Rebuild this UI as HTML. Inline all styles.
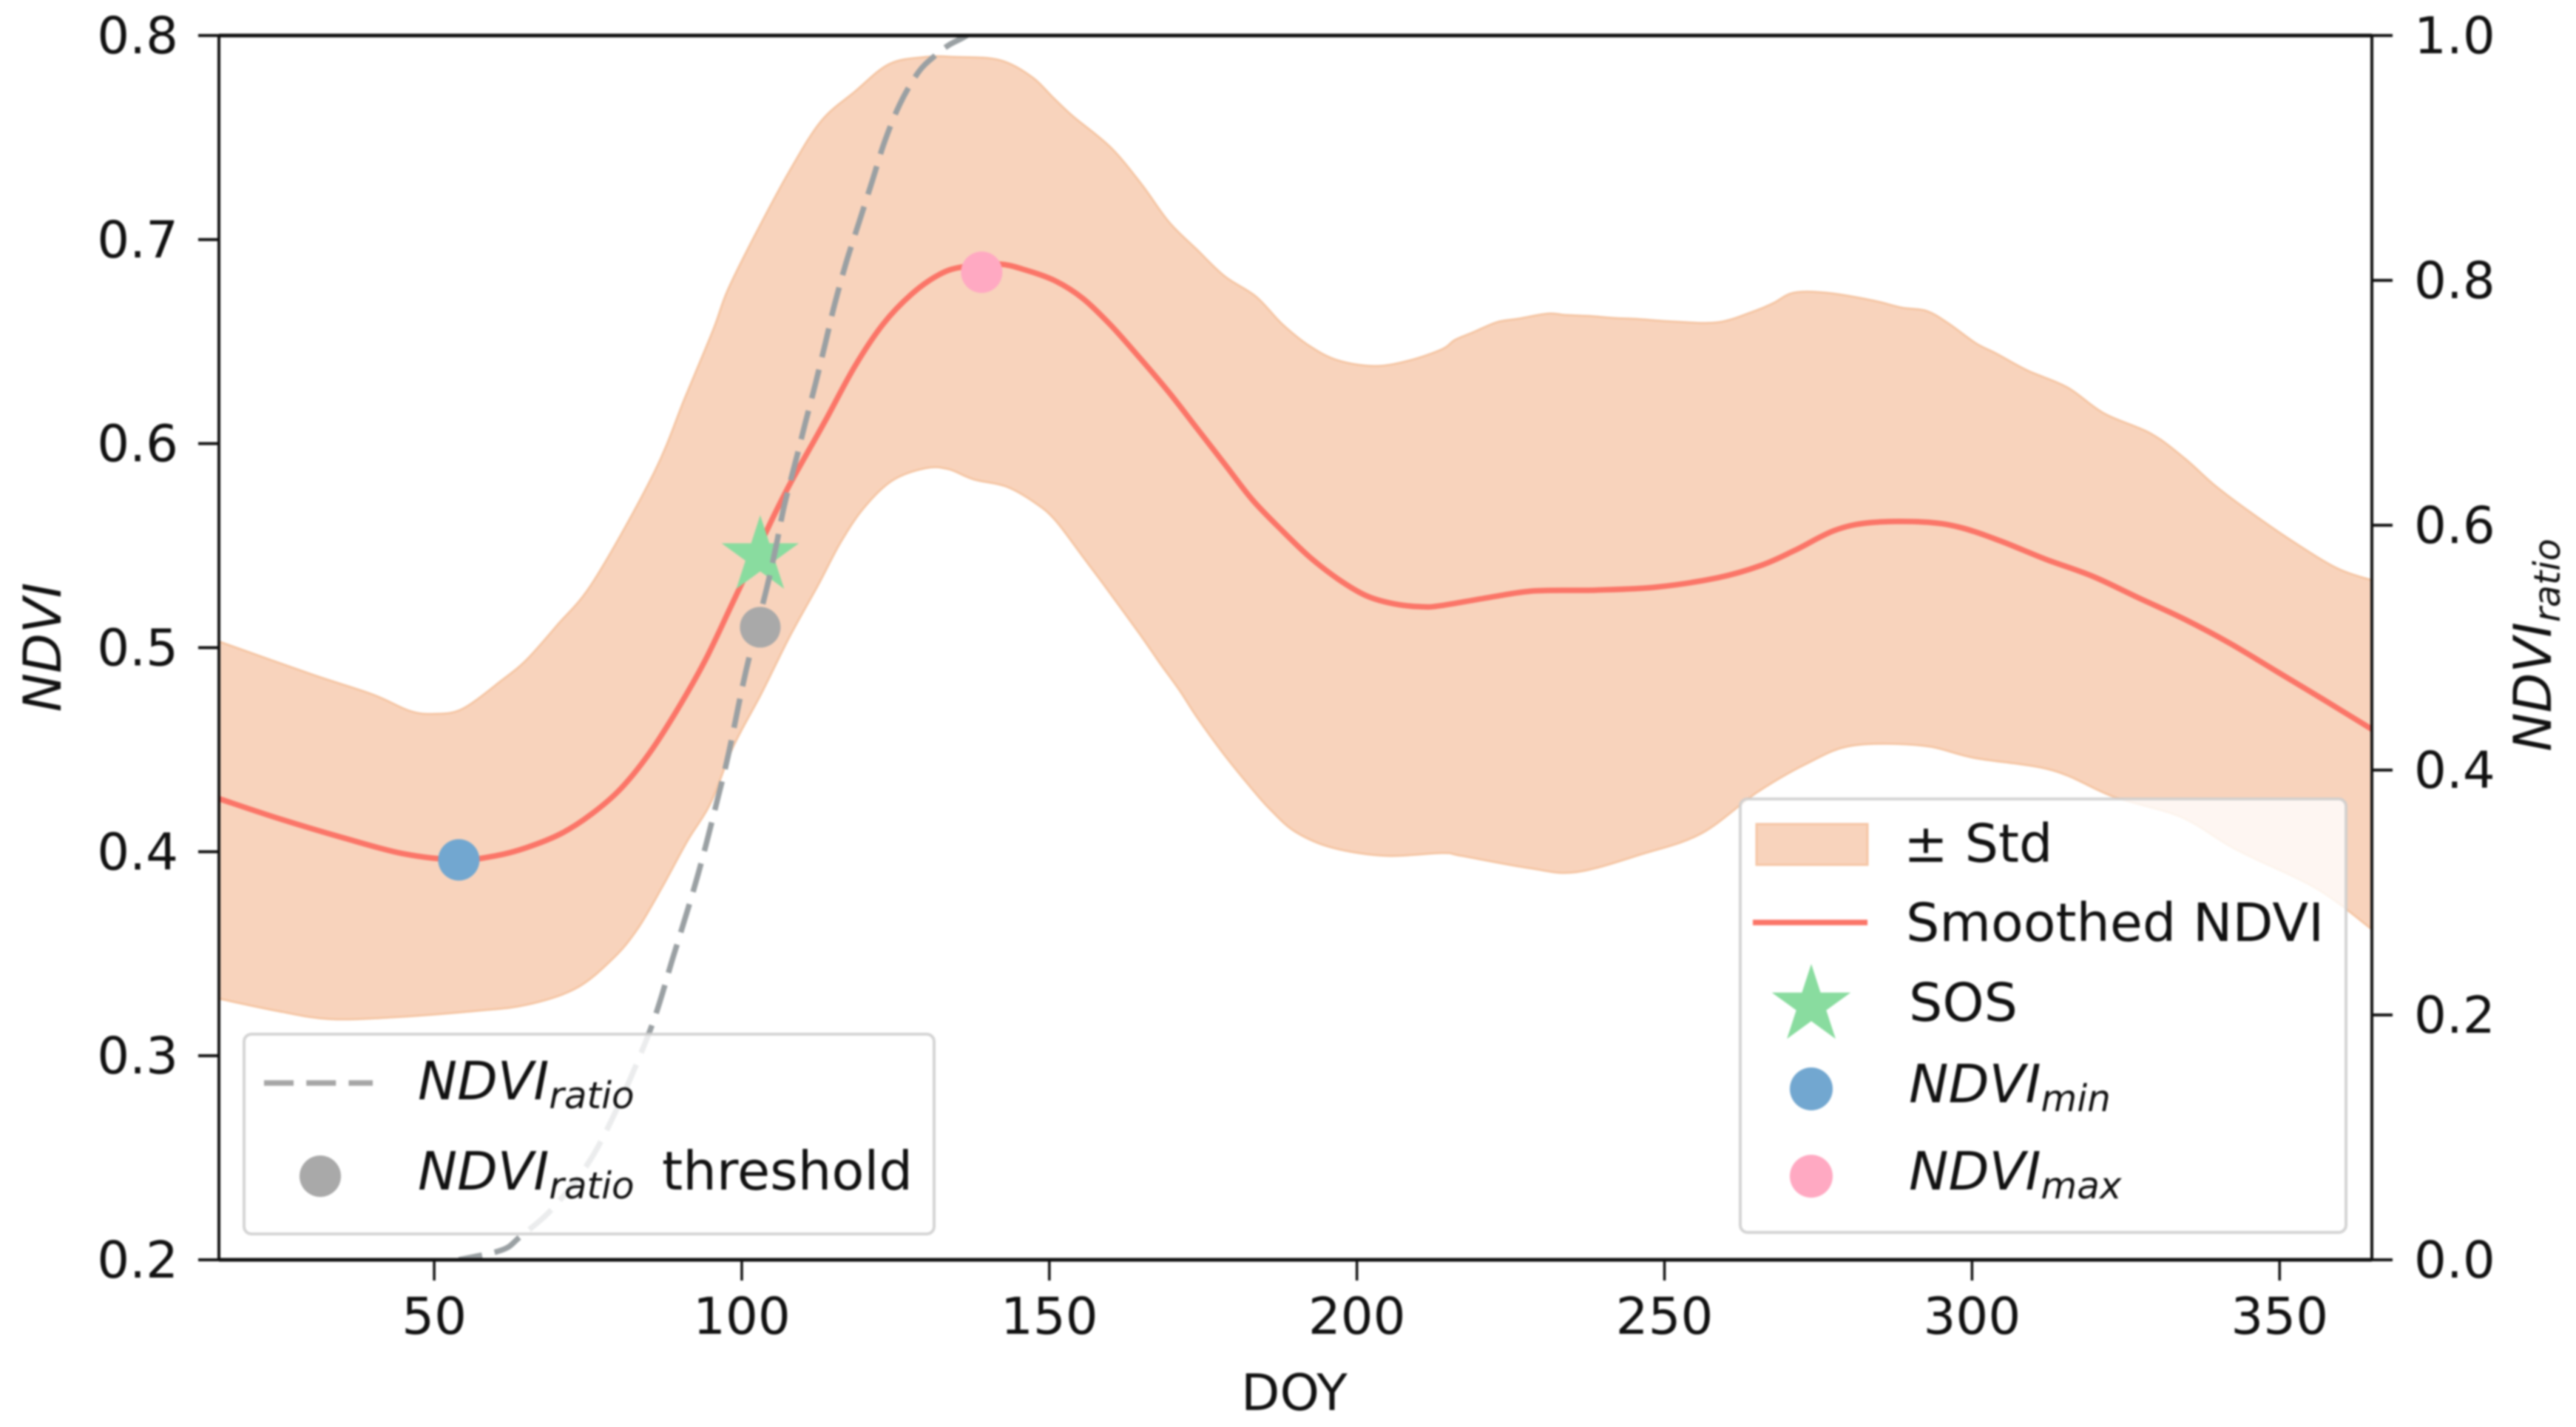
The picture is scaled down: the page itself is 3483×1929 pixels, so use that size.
<!DOCTYPE html>
<html lang="en">
<head>
<meta charset="utf-8">
<title>NDVI phenology chart</title>
<style>
html,body{margin:0;padding:0;background:#fff;}
body{width:3483px;height:1929px;overflow:hidden;}
svg{display:block;filter:blur(1.4px);}
text{font-family:"DejaVu Sans","Liberation Sans",sans-serif;fill:#111;}
.math{font-style:italic;}
</style>
</head>
<body>
<svg id="chart" xmlns="http://www.w3.org/2000/svg" width="3483" height="1929" viewBox="0 0 3483 1929">
  <rect x="0" y="0" width="3483" height="1929" fill="#ffffff"/>
  <defs>
    <clipPath id="plot-clip"><rect x="296" y="48" width="2911" height="1655"/></clipPath>
  </defs>
  <g id="marks" clip-path="url(#plot-clip)"></g>
  <g id="axes"></g>

  <text x="1750" y="1906" font-size="68" text-anchor="middle">DOY</text>
  <text class="math" transform="translate(82,875) rotate(-90)" font-size="70" text-anchor="middle">NDVI</text>
  <text class="math" transform="translate(3449,872) rotate(-90)" font-size="70" text-anchor="middle">NDVI<tspan font-size="49" dy="12">ratio</tspan></text>

  <g>
    <rect x="330" y="1398" width="933" height="270" rx="10" ry="10" fill="#ffffff" fill-opacity="0.8" stroke="#cccccc" stroke-opacity="0.85" stroke-width="4"/>
    <line x1="357" y1="1464" x2="504" y2="1464" stroke="#a6a6a6" stroke-width="7.5" stroke-dasharray="40 17.2"/>
    <text class="math" x="565" y="1486" font-size="71">NDVI<tspan font-size="50" dy="12">ratio</tspan></text>
    <circle cx="433" cy="1590" r="28" fill="#a9a9a9"/>
    <text class="math" x="565" y="1608" font-size="71">NDVI<tspan font-size="50" dy="12">ratio</tspan></text>
    <text x="895" y="1608" font-size="72">threshold</text>
  </g>

  <g>
    <rect x="2353" y="1080" width="819" height="586" rx="10" ry="10" fill="#ffffff" fill-opacity="0.8" stroke="#cccccc" stroke-opacity="0.85" stroke-width="4"/>
    <rect x="2375" y="1114" width="150" height="55" fill="#f8d3bc" stroke="#f5c6a5" stroke-width="3"/>
    <text x="2574" y="1165" font-size="71.5">± Std</text>
    <line x1="2370" y1="1247" x2="2525" y2="1247" stroke="#fb7568" stroke-width="7.5"/>
    <text x="2577" y="1272" font-size="71.5">Smoothed NDVI</text>
    <polygon id="legend-star" fill="#89dc9f"/>
    <text x="2581" y="1380" font-size="71.5">SOS</text>
    <circle cx="2449" cy="1472" r="29" fill="#72a7d0"/>
    <text class="math" x="2581" y="1490" font-size="71.5">NDVI<tspan font-size="50" dy="12">min</tspan></text>
    <circle cx="2449" cy="1590" r="29" fill="#ffa9c2"/>
    <text class="math" x="2581" y="1608" font-size="71.5">NDVI<tspan font-size="50" dy="12">max</tspan></text>
  </g>
</svg>
<script>
// ---- data ----
const xTickValues = [50, 100, 150, 200, 250, 300, 350];
const leftTickLabels = ['0.2', '0.3', '0.4', '0.5', '0.6', '0.7', '0.8'];
const rightTickLabels = ['0.0', '0.2', '0.4', '0.6', '0.8', '1.0'];

const meanDoy = [15, 25, 35, 45, 54, 60, 65, 70.7, 75.6, 80.2, 84.8, 89.4, 94, 98.6, 105, 107.8, 111.5, 113.9, 118.4, 123, 127.7, 132.2, 135.9, 141.8, 146.2, 151, 155.5, 160, 164.7, 169.4, 174, 178.5, 183, 187.8, 192.3, 197, 201.5, 206, 210.7, 213.9, 221.3, 228.8, 238.8, 248.7, 258.7, 265.7, 271.2, 277.7, 283.6, 292, 298, 304.6, 312, 319.6, 327, 334.5, 342, 349.5, 357, 365];
const meanNdvi = [0.426, 0.416, 0.407, 0.399, 0.396, 0.398, 0.402, 0.409, 0.4185, 0.4305, 0.4475, 0.469, 0.4935, 0.5225, 0.5633, 0.58, 0.6, 0.613, 0.638, 0.6587, 0.6735, 0.683, 0.6866, 0.688, 0.685, 0.6797, 0.671, 0.658, 0.642, 0.6253, 0.6075, 0.59, 0.5725, 0.5575, 0.5445, 0.5335, 0.5255, 0.5215, 0.52, 0.5207, 0.5245, 0.5278, 0.5282, 0.5297, 0.5343, 0.5403, 0.5477, 0.5575, 0.5613, 0.5616, 0.559, 0.5523, 0.5433, 0.535, 0.5245, 0.514, 0.502, 0.4884, 0.4748, 0.46];

const upperDoy = [15, 30, 40, 46, 50, 54.6, 61, 65, 70, 76, 85.7, 90.8, 95.4, 97.7, 102.3, 107.8, 112.9, 118.4, 124, 130, 134.5, 141.8, 147, 150.6, 153.8, 160, 165, 169.4, 174, 178.5, 183.6, 187.8, 192.3, 197, 203, 208.5, 213.9, 215.9, 218.9, 222.8, 226.3, 231.1, 233.8, 237.8, 241.8, 245.7, 251.3, 258.7, 264.7, 267.7, 271, 276.2, 283.6, 288.6, 292.6, 296.1, 300.6, 304, 309, 315.5, 321.5, 329, 334.5, 339.5, 345.5, 352.4, 359.4, 365];
const upperNdvi = [0.503, 0.487, 0.477, 0.469, 0.4675, 0.47, 0.484, 0.494, 0.511, 0.533, 0.5854, 0.6226, 0.656, 0.675, 0.703, 0.7337, 0.758, 0.7725, 0.786, 0.7895, 0.7895, 0.788, 0.78, 0.7696, 0.7605, 0.745, 0.727, 0.7087, 0.695, 0.682, 0.672, 0.6587, 0.6478, 0.6407, 0.638, 0.6407, 0.6463, 0.6507, 0.6545, 0.6595, 0.6612, 0.6637, 0.663, 0.6625, 0.6615, 0.661, 0.6598, 0.6594, 0.665, 0.6688, 0.6739, 0.6739, 0.6703, 0.6666, 0.665, 0.659, 0.6492, 0.644, 0.6358, 0.6275, 0.6147, 0.605, 0.5929, 0.5794, 0.5658, 0.5515, 0.5388, 0.533];

const lowerDoy = [15, 24.5, 33, 44, 56.7, 65, 73, 79, 83, 87, 91.2, 94.9, 98.6, 103.2, 107.8, 112.4, 116, 119.7, 124.4, 129.9, 133.6, 137.7, 143, 147.7, 151, 155.5, 159.2, 164.7, 168, 171.2, 174, 178.5, 183, 185.9, 190, 196, 204.7, 213.9, 217, 228, 235.6, 246.5, 256, 265, 273, 280.5, 292, 300.4, 313, 323, 334, 343, 356, 365];
const lowerNdvi = [0.328, 0.322, 0.318, 0.319, 0.322, 0.325, 0.333, 0.3475, 0.362, 0.3824, 0.4056, 0.4237, 0.4515, 0.4777, 0.5056, 0.5307, 0.5513, 0.568, 0.5818, 0.588, 0.5875, 0.5825, 0.579, 0.571, 0.5624, 0.5444, 0.5295, 0.5067, 0.4924, 0.479, 0.466, 0.4473, 0.4306, 0.4208, 0.4098, 0.402, 0.398, 0.3994, 0.398, 0.392, 0.39, 0.399, 0.409, 0.429, 0.443, 0.452, 0.452, 0.446, 0.44, 0.427, 0.417, 0.401, 0.382, 0.362];

const ratioDoy = [54, 61, 64, 69.6, 76.6, 84.6, 89, 92.9, 96.3, 97.9, 100.7, 104, 105.5, 106.9, 109, 110.3, 112, 113.6, 115.1, 117, 119.1, 121.2, 123.2, 125.7, 128.7, 131.3, 133.6, 135.9, 137.5];
const ratioValues = [0, 0.008, 0.019, 0.044, 0.092, 0.181, 0.25, 0.315, 0.381, 0.4145, 0.4815, 0.5474, 0.581, 0.6157, 0.657, 0.683, 0.716, 0.749, 0.7805, 0.815, 0.848, 0.881, 0.913, 0.944, 0.97, 0.983, 0.992, 0.998, 1.003];

const minPointDoy = [54];
const minPointNdvi = [0.396];
const maxPointDoy = [139];
const maxPointNdvi = [0.684];
const sosPointDoy = [103];
const sosPointNdvi = [0.545];
const thresholdPointDoy = [103];
const thresholdPointNdvi = [0.51];

// ---- axis functions ----
const PLOT_LEFT = 296, PLOT_RIGHT = 3207, PLOT_TOP = 48, PLOT_BOTTOM = 1703;
const X_MIN = 15, X_MAX = 365, LEFT_MIN = 0.2, LEFT_MAX = 0.8, RIGHT_MIN = 0, RIGHT_MAX = 1;
function xScale(v) { return PLOT_LEFT + (v - X_MIN) / (X_MAX - X_MIN) * (PLOT_RIGHT - PLOT_LEFT); }
function yLeft(v) { return PLOT_BOTTOM - (v - LEFT_MIN) / (LEFT_MAX - LEFT_MIN) * (PLOT_BOTTOM - PLOT_TOP); }
function yRight(v) { return PLOT_BOTTOM - (v - RIGHT_MIN) / (RIGHT_MAX - RIGHT_MIN) * (PLOT_BOTTOM - PLOT_TOP); }

const NS = 'http://www.w3.org/2000/svg';
const marks = document.getElementById('marks');
const axes = document.getElementById('axes');

function toPoints(xs, ys, yFn) {
  return xs.map(function (x, i) { return [xScale(x), yFn(ys[i])]; });
}
function curveSegments(p) {
  let d = '';
  for (let i = 0; i < p.length - 1; i++) {
    const p0 = p[Math.max(i - 1, 0)], p1 = p[i], p2 = p[i + 1], p3 = p[Math.min(i + 2, p.length - 1)];
    const c1x = p1[0] + (p2[0] - p0[0]) / 6, c1y = p1[1] + (p2[1] - p0[1]) / 6;
    const c2x = p2[0] - (p3[0] - p1[0]) / 6, c2y = p2[1] - (p3[1] - p1[1]) / 6;
    d += ' C' + c1x.toFixed(1) + ' ' + c1y.toFixed(1) + ' ' + c2x.toFixed(1) + ' ' + c2y.toFixed(1) + ' ' + p2[0].toFixed(1) + ' ' + p2[1].toFixed(1);
  }
  return d;
}
function starPoints(cx, cy, R) {
  const r = R * 0.382, out = [];
  for (let i = 0; i < 10; i++) {
    const a = -Math.PI / 2 + i * Math.PI / 5, q = i % 2 ? r : R;
    out.push((cx + q * Math.cos(a)).toFixed(1) + ',' + (cy + q * Math.sin(a)).toFixed(1));
  }
  return out.join(' ');
}

document.getElementById('legend-star').setAttribute('points', starPoints(2449, 1359, 56));

// std band
const upperPts = toPoints(upperDoy, upperNdvi, yLeft);
const lowerPts = toPoints(lowerDoy, lowerNdvi, yLeft).reverse();
const band = document.createElementNS(NS, 'path');


band.setAttribute('d', 'M' + upperPts[0][0] + ' ' + upperPts[0][1] + curveSegments(upperPts) + ' L' + lowerPts[0][0] + ' ' + lowerPts[0][1] + curveSegments(lowerPts) + ' Z');
band.setAttribute('fill', '#f8d3bc');
band.setAttribute('stroke', '#f5c6a5');
band.setAttribute('stroke-width', '3');
marks.appendChild(band);

// smoothed NDVI line
const meanPts = toPoints(meanDoy, meanNdvi, yLeft);
const meanLine = document.createElementNS(NS, 'path');


meanLine.setAttribute('d', 'M' + meanPts[0][0] + ' ' + meanPts[0][1] + curveSegments(meanPts));
meanLine.setAttribute('fill', 'none');
meanLine.setAttribute('stroke', '#fb7568');
meanLine.setAttribute('stroke-width', '7.5');
marks.appendChild(meanLine);

// min marker
const minMarker = document.createElementNS(NS, 'circle');


minMarker.setAttribute('cx', xScale(minPointDoy[0]));
minMarker.setAttribute('cy', yLeft(minPointNdvi[0]));
minMarker.setAttribute('r', '28');
minMarker.setAttribute('fill', '#72a7d0');
marks.appendChild(minMarker);

// max marker
const maxMarker = document.createElementNS(NS, 'circle');


maxMarker.setAttribute('cx', xScale(maxPointDoy[0]));
maxMarker.setAttribute('cy', yLeft(maxPointNdvi[0]));
maxMarker.setAttribute('r', '28');
maxMarker.setAttribute('fill', '#ffa9c2');
marks.appendChild(maxMarker);

// SOS star
const sosMarker = document.createElementNS(NS, 'polygon');


sosMarker.setAttribute('points', starPoints(xScale(sosPointDoy[0]), yLeft(sosPointNdvi[0]), 55));
sosMarker.setAttribute('fill', '#89dc9f');
marks.appendChild(sosMarker);

// NDVI ratio dashed line (twin axis)
const ratioPts = toPoints(ratioDoy, ratioValues, yRight);
const ratioLine = document.createElementNS(NS, 'path');


ratioLine.setAttribute('d', 'M' + ratioPts[0][0] + ' ' + ratioPts[0][1] + curveSegments(ratioPts));
ratioLine.setAttribute('fill', 'none');
ratioLine.setAttribute('stroke', '#9aa0a3');
ratioLine.setAttribute('stroke-width', '7.5');
ratioLine.setAttribute('stroke-dasharray', '40 17.2');
ratioLine.setAttribute('stroke-dashoffset', '8');
marks.appendChild(ratioLine);

// threshold marker
const thresholdMarker = document.createElementNS(NS, 'circle');


thresholdMarker.setAttribute('cx', xScale(thresholdPointDoy[0]));
thresholdMarker.setAttribute('cy', yLeft(thresholdPointNdvi[0]));
thresholdMarker.setAttribute('r', '27.5');
thresholdMarker.setAttribute('fill', '#a9a9a9');
marks.appendChild(thresholdMarker);

// spines
const spineTop = document.createElementNS(NS, 'line');


spineTop.setAttribute('x1', PLOT_LEFT); spineTop.setAttribute('x2', PLOT_RIGHT);
spineTop.setAttribute('y1', PLOT_TOP); spineTop.setAttribute('y2', PLOT_TOP);
spineTop.setAttribute('stroke', '#111'); spineTop.setAttribute('stroke-width', '5');
axes.appendChild(spineTop);

const spineBottom = document.createElementNS(NS, 'line');


spineBottom.setAttribute('x1', PLOT_LEFT); spineBottom.setAttribute('x2', PLOT_RIGHT);
spineBottom.setAttribute('y1', PLOT_BOTTOM); spineBottom.setAttribute('y2', PLOT_BOTTOM);
spineBottom.setAttribute('stroke', '#111'); spineBottom.setAttribute('stroke-width', '5');
axes.appendChild(spineBottom);

const spineLeft = document.createElementNS(NS, 'line');


spineLeft.setAttribute('x1', PLOT_LEFT); spineLeft.setAttribute('x2', PLOT_LEFT);
spineLeft.setAttribute('y1', PLOT_TOP); spineLeft.setAttribute('y2', PLOT_BOTTOM);
spineLeft.setAttribute('stroke', '#111'); spineLeft.setAttribute('stroke-width', '4');
axes.appendChild(spineLeft);

const spineRight = document.createElementNS(NS, 'line');


spineRight.setAttribute('x1', PLOT_RIGHT); spineRight.setAttribute('x2', PLOT_RIGHT);
spineRight.setAttribute('y1', PLOT_TOP); spineRight.setAttribute('y2', PLOT_BOTTOM);
spineRight.setAttribute('stroke', '#111'); spineRight.setAttribute('stroke-width', '4');
axes.appendChild(spineRight);

// x ticks
xTickValues.forEach(function (v) {
  const tick = document.createElementNS(NS, 'line');
  
  
  tick.setAttribute('x1', xScale(v)); tick.setAttribute('x2', xScale(v));
  tick.setAttribute('y1', PLOT_BOTTOM); tick.setAttribute('y2', PLOT_BOTTOM + 28);
  tick.setAttribute('stroke', '#111'); tick.setAttribute('stroke-width', '3.5');
  axes.appendChild(tick);
  const label = document.createElementNS(NS, 'text');
  
  
  label.setAttribute('x', xScale(v));
  label.setAttribute('y', 1803);
  label.setAttribute('font-size', '69');
  label.setAttribute('text-anchor', 'middle');
  label.textContent = String(v);
  axes.appendChild(label);
});

// left y ticks
leftTickLabels.forEach(function (t) {
  const y = yLeft(parseFloat(t));
  const tick = document.createElementNS(NS, 'line');
  
  
  tick.setAttribute('x1', PLOT_LEFT - 28); tick.setAttribute('x2', PLOT_LEFT);
  tick.setAttribute('y1', y); tick.setAttribute('y2', y);
  tick.setAttribute('stroke', '#111'); tick.setAttribute('stroke-width', '4');
  axes.appendChild(tick);
  const label = document.createElementNS(NS, 'text');
  
  
  label.setAttribute('x', 241);
  label.setAttribute('y', y + 24);
  label.setAttribute('font-size', '69');
  label.setAttribute('text-anchor', 'end');
  label.textContent = t;
  axes.appendChild(label);
});

// right y ticks
rightTickLabels.forEach(function (t) {
  const y = yRight(parseFloat(t));
  const tick = document.createElementNS(NS, 'line');
  
  
  tick.setAttribute('x1', PLOT_RIGHT); tick.setAttribute('x2', PLOT_RIGHT + 28);
  tick.setAttribute('y1', y); tick.setAttribute('y2', y);
  tick.setAttribute('stroke', '#111'); tick.setAttribute('stroke-width', '4');
  axes.appendChild(tick);
  const label = document.createElementNS(NS, 'text');
  
  
  label.setAttribute('x', 3264);
  label.setAttribute('y', y + 24);
  label.setAttribute('font-size', '69');
  label.textContent = t;
  axes.appendChild(label);
});
</script>
</body>
</html>
